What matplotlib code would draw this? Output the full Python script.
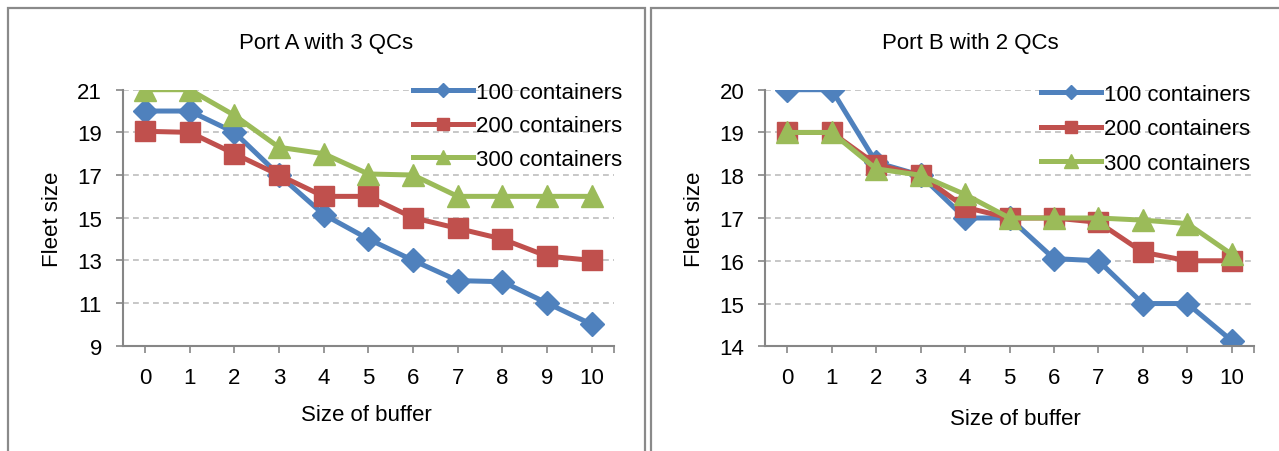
import matplotlib
matplotlib.use("Agg")
import matplotlib.pyplot as plt
from matplotlib.patches import Rectangle
import numpy as np

plt.rcParams['font.family'] = ['Liberation Sans', 'DejaVu Sans']

buffer_sizes = [0, 1, 2, 3, 4, 5, 6, 7, 8, 9, 10]
series_labels = ["100 containers", "200 containers", "300 containers"]

portA_100 = [20, 20, 19, 17, 15.15, 14, 13, 12.05, 12, 11, 10]
portA_200 = [19.05, 19, 18, 17, 16, 16, 15, 14.5, 14, 13.2, 13]
portA_300 = [21, 21, 19.8, 18.3, 18, 17.05, 17, 16, 16, 16, 16]

portB_100 = [20, 20, 18.3, 18, 17, 17, 16.05, 16, 15, 15, 14.13]
portB_200 = [19, 19, 18.25, 18, 17.25, 17, 17, 16.9, 16.2, 16, 16]
portB_300 = [19, 19, 18.15, 18, 17.55, 17, 17, 17, 16.95, 16.87, 16.15]

portA_yticks = [9, 11, 13, 15, 17, 19, 21]
portB_yticks = [14, 15, 16, 17, 18, 19, 20]

colors = ["#4F81BD", "#C0504D", "#9BBB59"]
markers = ["D", "s", "^"]
msizes = [12.5, 15, 16]

W, H = 1279, 452
fig = plt.figure(figsize=(W / 100, H / 100), dpi=100)

# panel borders
fig.patches.append(Rectangle((7.5 / W, -0.1), (645 - 7.5) / W, 1.1 - 8.5 / H,
                             transform=fig.transFigure, fill=False,
                             edgecolor="#8a8a8a", linewidth=1.6))
fig.patches.append(Rectangle((651 / W, -0.1), (1290 - 651) / W, 1.1 - 8.5 / H,
                             transform=fig.transFigure, fill=False,
                             edgecolor="#8a8a8a", linewidth=1.6))


def make_axes(px_left, px_right, px_top, px_bottom):
    return fig.add_axes([px_left / W, 1 - px_bottom / H,
                         (px_right - px_left) / W, (px_bottom - px_top) / H])


def style(ax, ylim, yticks, legend_anchor, spacing):
    ax.set_xlim(-0.5, 10.5)
    ax.set_ylim(*ylim)
    ax.set_xticks(buffer_sizes)
    ax.set_xticks([10.5], minor=True)
    ax.set_yticks(yticks)
    for s in ["top", "right"]:
        ax.spines[s].set_visible(False)
    for s in ["left", "bottom"]:
        ax.spines[s].set_color("#868686")
        ax.spines[s].set_linewidth(1.5)
    ax.tick_params(axis="both", which="both", direction="out", length=5,
                   width=1.2, color="#868686", labelsize=16, pad=10)
    ax.tick_params(axis="x", which="minor", length=5)
    ax.grid(axis="y", linestyle=(0, (3.5, 2.5)), color="#BDBDBD", linewidth=1.2)
    ax.set_axisbelow(True)
    leg = ax.legend(frameon=False, loc="upper left", bbox_to_anchor=legend_anchor,
                    bbox_transform=fig.transFigure, fontsize=16,
                    handlelength=2.7, handletextpad=0.15, labelspacing=spacing,
                    borderpad=0, borderaxespad=0, markerscale=0.6)
    return leg


def draw(ax, series):
    for vals, c, m, ms, lab in zip(series, colors, markers, msizes, series_labels):
        ax.plot(buffer_sizes, vals, color=c, marker=m, markersize=ms,
                markeredgecolor=c, linewidth=3.6, label=lab)


axA = make_axes(122.7, 614, 90.7, 346.7)
draw(axA, [portA_100, portA_200, portA_300])
style(axA, (9, 21), portA_yticks, (413 / W, 1 - 83 / H), 0.56)

axB = make_axes(765, 1254, 90.7, 347.3)
draw(axB, [portB_100, portB_200, portB_300])
style(axB, (14, 20), portB_yticks, (1041 / W, 1 - 85 / H), 0.6)

fig.text(326 / W, 1 - 44 / H, "Port A with 3 QCs", ha="center", va="center", fontsize=16)
fig.text(970 / W, 1 - 44 / H, "Port B with 2 QCs", ha="center", va="center", fontsize=16)
fig.text(366 / W, 1 - 416 / H, "Size of buffer", ha="center", va="center", fontsize=16)
fig.text(1015 / W, 1 - 420 / H, "Size of buffer", ha="center", va="center", fontsize=16)
fig.text(52 / W, 1 - 219 / H, "Fleet size", ha="center", va="center", fontsize=16, rotation=90)
fig.text(694 / W, 1 - 219 / H, "Fleet size", ha="center", va="center", fontsize=16, rotation=90)

fig.savefig("out.png", dpi=100)
